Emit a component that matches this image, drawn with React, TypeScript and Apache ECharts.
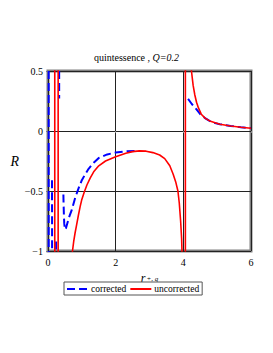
import React, { useEffect, useRef } from "react";
import * as echarts from "echarts";

const titleText = "quintessence , ";
const titleParam = "Q=0.2";
const xTicks = [0, 2, 4, 6];
const yTicks = [-1, -0.5, 0, 0.5];

// corrected (blue dashed) pieces
const correctedLeftA: [number, number][] = [[0.02, 0.6], [0.02, -1.1]];
const correctedLeftB: [number, number][] = [[0.118, -0.41], [0.12, -0.7], [0.121, -1.1]];
const correctedLeftC: [number, number][] = [[0.24, -0.92], [0.24, -1.1]];
const correctedLeftD: [number, number][] = [[0.33, 0.6], [0.33, 0.27]];
const correctedMiddle: [number, number][] = [
  [0.455, -0.53], [0.46, -0.6], [0.47, -0.7], [0.48, -0.77], [0.5, -0.82],
  [0.53, -0.81], [0.57, -0.77], [0.62, -0.72], [0.7, -0.66], [0.8, -0.56],
  [0.9, -0.48], [1.0, -0.41], [1.1, -0.36], [1.2, -0.315], [1.35, -0.265],
  [1.5, -0.225], [1.75, -0.195], [2.0, -0.18], [2.3, -0.17], [2.6, -0.165],
];
const correctedRight: [number, number][] = [
  [4.14, 0.267], [4.25, 0.225], [4.39, 0.18], [4.5, 0.14], [4.63, 0.11],
  [4.75, 0.088], [4.88, 0.07], [5.08, 0.056], [5.4, 0.042], [5.7, 0.031], [6.0, 0.023],
];

// uncorrected (red solid) pieces
const uncorrectedLeftA: [number, number][] = [[0.2, 0.6], [0.2, -1.1]];
const uncorrectedLeftB: [number, number][] = [[0.3, 0.6], [0.3, -1.1]];
const uncorrectedMiddle: [number, number][] = [
  [0.715, -1.02], [0.76, -0.92], [0.8, -0.85], [0.84, -0.79], [0.9, -0.7],
  [0.95, -0.63], [1.0, -0.57], [1.07, -0.51], [1.15, -0.45], [1.25, -0.39],
  [1.35, -0.34], [1.5, -0.29], [1.7, -0.25], [2.0, -0.215], [2.3, -0.185],
  [2.5, -0.172], [2.7, -0.166], [2.9, -0.168], [3.1, -0.18], [3.3, -0.2],
  [3.45, -0.23], [3.6, -0.29], [3.7, -0.36], [3.78, -0.43], [3.84, -0.5],
  [3.88, -0.6], [3.92, -0.75], [3.95, -0.9], [3.965, -1.05],
];
const uncorrectedVertical: [number, number][] = [[4.06, 0.6], [4.06, -1.1]];
const uncorrectedRight: [number, number][] = [
  [4.23, 0.53], [4.24, 0.5], [4.29, 0.38], [4.34, 0.3], [4.39, 0.24], [4.45, 0.19],
  [4.53, 0.14], [4.65, 0.105], [4.78, 0.084], [5.08, 0.056], [5.4, 0.042],
  [5.7, 0.031], [6.0, 0.023],
];

const SERIF = "Liberation Serif";

export default function App() {
  const ref = useRef<HTMLDivElement>(null);
  useEffect(() => {
    if (!ref.current) return;
    const chart = echarts.init(ref.current, undefined, { renderer: "svg" });
    const blue = (data: [number, number][]) => ({
      type: "line",
      name: "corrected",
      data,
      symbol: "none",
      clip: true,
      smooth: false,
      lineStyle: { color: "#0000ff", width: 2, type: [8, 4] },
      itemStyle: { color: "#0000ff" },
      z: 3,
    });
    const red = (data: [number, number][]) => ({
      type: "line",
      name: "uncorrected",
      data,
      symbol: "none",
      clip: true,
      smooth: false,
      lineStyle: { color: "#ff0000", width: 1.6, type: "solid" },
      itemStyle: { color: "#ff0000" },
      z: 4,
    });
    chart.setOption({
      animation: false,
      backgroundColor: "#ffffff",
      textStyle: { fontFamily: SERIF },
      title: {
        text: `{n|${titleText}}{i|${titleParam}}`,
        left: "center",
        top: 50,
        padding: 2,
        textStyle: {
          fontWeight: "normal",
          fontFamily: SERIF,
          rich: {
            n: { fontFamily: SERIF, fontSize: 10, fontWeight: "normal", color: "#000" },
            i: { fontFamily: SERIF, fontSize: 10, fontWeight: "normal", fontStyle: "italic", color: "#000" },
          },
        },
      },
      grid: {
        left: 48,
        right: 22,
        top: 71,
        bottom: 102,
        show: true,
        borderColor: "#808080",
        borderWidth: 3,
        backgroundColor: "transparent",
      },
      legend: {
        data: ["corrected", "uncorrected"],
        left: 64,
        top: 282,
        itemWidth: 21,
        itemHeight: 8,
        itemGap: 3,
        padding: [2, 3, 1, 2],
        borderColor: "#555",
        borderWidth: 1,
        itemStyle: { opacity: 0 },
        textStyle: { fontFamily: SERIF, fontSize: 9.5, color: "#000", padding: [0, 0, 0, -2] },
      },
      xAxis: {
        type: "value",
        min: xTicks[0],
        max: xTicks[xTicks.length - 1],
        interval: 2,
        name: "{i|r}{s|+, q}",
        nameLocation: "middle",
        nameGap: 9,
        nameTextStyle: {
          fontFamily: SERIF,
          rich: {
            i: { fontFamily: SERIF, fontSize: 12, fontStyle: "italic", color: "#000", lineHeight: 12 },
            s: { fontFamily: SERIF, fontSize: 7, fontStyle: "italic", color: "#000", lineHeight: 8, padding: [2, 0, 0, 1] },
          },
        },
        axisLine: { show: false },
        axisTick: { show: true, length: 2, lineStyle: { color: "#808080" } },
        axisLabel: { fontFamily: SERIF, fontSize: 10, color: "#000", margin: 6 },
        splitLine: { show: true, lineStyle: { color: "#222", width: 1 } },
      },
      yAxis: {
        type: "value",
        min: yTicks[0],
        max: yTicks[yTicks.length - 1],
        interval: 0.5,
        name: "R",
        nameLocation: "middle",
        nameRotate: 0,
        nameGap: 27,
        nameTextStyle: { fontFamily: SERIF, fontSize: 14, fontStyle: "italic", color: "#000" },
        axisLine: { show: false },
        axisTick: { show: true, length: 2, lineStyle: { color: "#808080" } },
        axisLabel: {
          fontFamily: SERIF,
          fontSize: 10,
          color: "#000",
          margin: 5,
          formatter: (v: number) => String(v).replace("-", "\u2212"),
        },
        splitLine: { show: true, lineStyle: { color: "#222", width: 1 } },
      },
      series: [
        blue(correctedLeftA),
        blue(correctedLeftB),
        blue(correctedLeftC),
        blue(correctedLeftD),
        blue(correctedMiddle),
        blue(correctedRight),
        red(uncorrectedLeftA),
        red(uncorrectedLeftB),
        red(uncorrectedMiddle),
        red(uncorrectedVertical),
        red(uncorrectedRight),
      ],
    });
    return () => chart.dispose();
  }, []);
  return <div ref={ref} style={{ width: 273, height: 353, position: "absolute", left: 0, top: 0 }} />;
}
